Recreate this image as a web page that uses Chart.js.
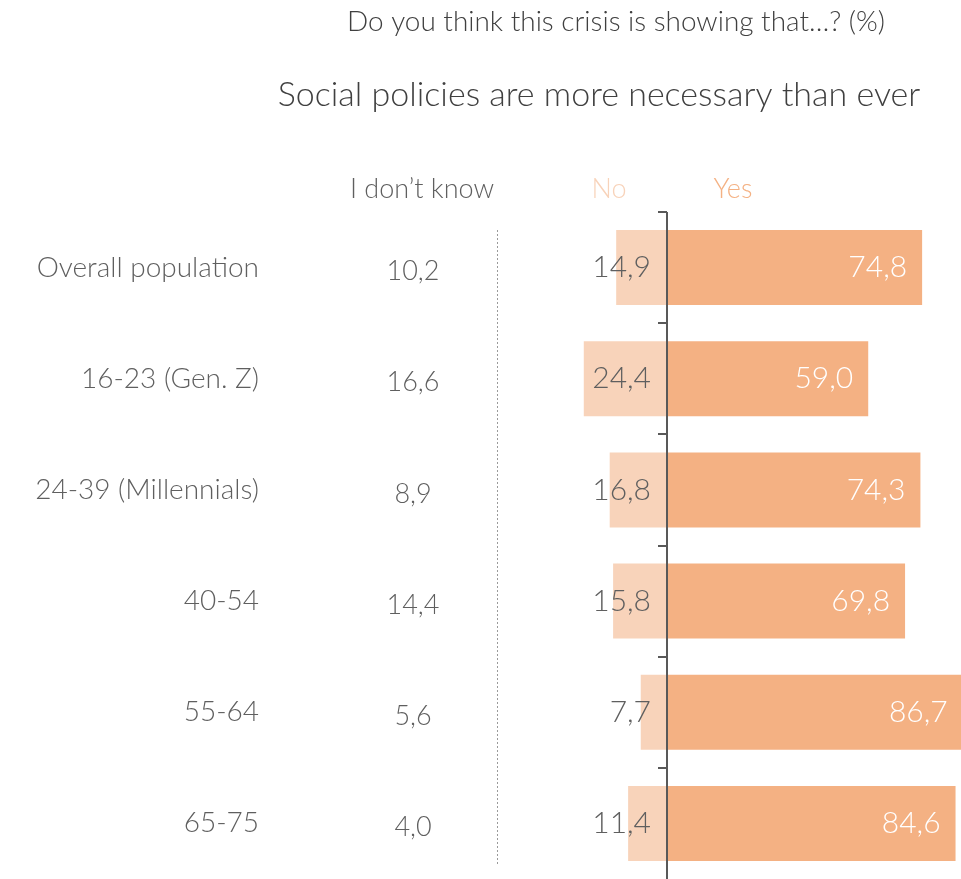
<!DOCTYPE html>
<html>
<head>
<meta charset="utf-8">
<script src="https://cdn.jsdelivr.net/npm/chart.js@4"></script>
<style>
  body { margin: 0; background: #fff; }
  #wrap { width: 961px; height: 879px; }
</style>
</head>
<body>
<div id="wrap"><canvas id="chart" width="961" height="879"></canvas></div>
<script>
const categories = ["Overall population", "16-23 (Gen. Z)", "24-39 (Millennials)", "40-54", "55-64", "65-75"];
const yesValues = [74.8, 59.0, 74.3, 69.8, 86.7, 84.6];
const noValues = [14.9, 24.4, 16.8, 15.8, 7.7, 11.4];
const dontKnowValues = [10.2, 16.6, 8.9, 14.4, 5.6, 4.0];

const FONT = "Lato, 'Open Sans', sans-serif";
const GREY = "#5f5f5f";
const YES_COLOR = "#f4b183";
const NO_COLOR = "#f8d3ba";

function fmt(v) {
  return v.toFixed(1).replace(".", ",");
}

// titles, column heads, zero line and value labels
const decorations = {
  id: "decorations",
  afterDatasetsDraw(chart) {
    const ctx = chart.ctx;
    const x = chart.scales.x;
    const y = chart.scales.y;
    const x0 = x.getPixelForValue(0);
    const area = chart.chartArea;
    ctx.save();

    ctx.fillStyle = "#404040";
    ctx.textAlign = "center";
    ctx.textBaseline = "middle";
    ctx.font = "300 28px " + FONT;
    ctx.fillText("Do you think this crisis is showing that\u2026? (%)", 616, 22, 538);
    ctx.font = "300 34px " + FONT;
    ctx.fillText("Social policies are more necessary than ever", 599, 95, 644);

    ctx.font = "300 27px " + FONT;
    ctx.fillStyle = GREY;
    ctx.fillText("I don\u2019t know", 422, 189);
    ctx.fillStyle = NO_COLOR;
    ctx.fillText("No", 609, 189);
    ctx.fillStyle = YES_COLOR;
    ctx.fillText("Yes", 733, 189);

    // dotted separator
    ctx.strokeStyle = "#9a9a9a";
    ctx.lineWidth = 1;
    ctx.setLineDash([2, 2]);
    ctx.beginPath();
    ctx.moveTo(497.5, 230);
    ctx.lineTo(497.5, 866);
    ctx.stroke();
    ctx.setLineDash([]);

    // zero axis with ticks between rows
    ctx.strokeStyle = "#595959";
    ctx.lineWidth = 2;
    ctx.beginPath();
    ctx.moveTo(x0, area.top);
    ctx.lineTo(x0, area.bottom);
    const half = (y.getPixelForValue(1) - y.getPixelForValue(0)) / 2;
    categories.forEach((c, i) => {
      const yb = Math.round(y.getPixelForValue(i) - half);
      ctx.moveTo(x0 - 9, yb);
      ctx.lineTo(x0, yb);
    });
    ctx.stroke();

    // values
    categories.forEach((c, i) => {
      const yc = y.getPixelForValue(i);
      ctx.font = "300 27px " + FONT;
      ctx.fillStyle = GREY;
      ctx.textAlign = "center";
      ctx.fillText(fmt(dontKnowValues[i]), 413, yc + 4);
      ctx.font = "300 30px " + FONT;
      ctx.textAlign = "right";
      ctx.fillText(fmt(noValues[i]), x0 - 16, yc);
      ctx.fillStyle = "#ffffff";
      ctx.fillText(fmt(yesValues[i]), x.getPixelForValue(yesValues[i]) - 15, yc);
    });
    ctx.restore();
  }
};

new Chart(document.getElementById("chart"), {
  type: "bar",
  data: {
    labels: categories,
    datasets: [
      {
        label: "No",
        data: noValues.map((v) => -v),
        backgroundColor: NO_COLOR,
        categoryPercentage: 1,
        barPercentage: 0.675
      },
      {
        label: "Yes",
        data: yesValues,
        backgroundColor: YES_COLOR,
        categoryPercentage: 1,
        barPercentage: 0.675
      }
    ]
  },
  options: {
    indexAxis: "y",
    responsive: false,
    animation: false,
    layout: { padding: { top: 212, right: 0, bottom: 0, left: 0 } },
    scales: {
      x: {
        stacked: true,
        min: -116.4,
        max: 86.2,
        display: false
      },
      y: {
        stacked: true,
        afterFit: (s) => {
          s.width = 270;
          s.paddingTop = 0;
          s.paddingBottom = 0;
        },
        grid: { display: false },
        border: { display: false },
        ticks: {
          color: GREY,
          padding: 3,
          font: { family: FONT, size: 28, weight: 300 }
        }
      }
    },
    plugins: {
      legend: { display: false },
      tooltip: { enabled: false }
    }
  },
  plugins: [decorations]
});
</script>
</body>
</html>
